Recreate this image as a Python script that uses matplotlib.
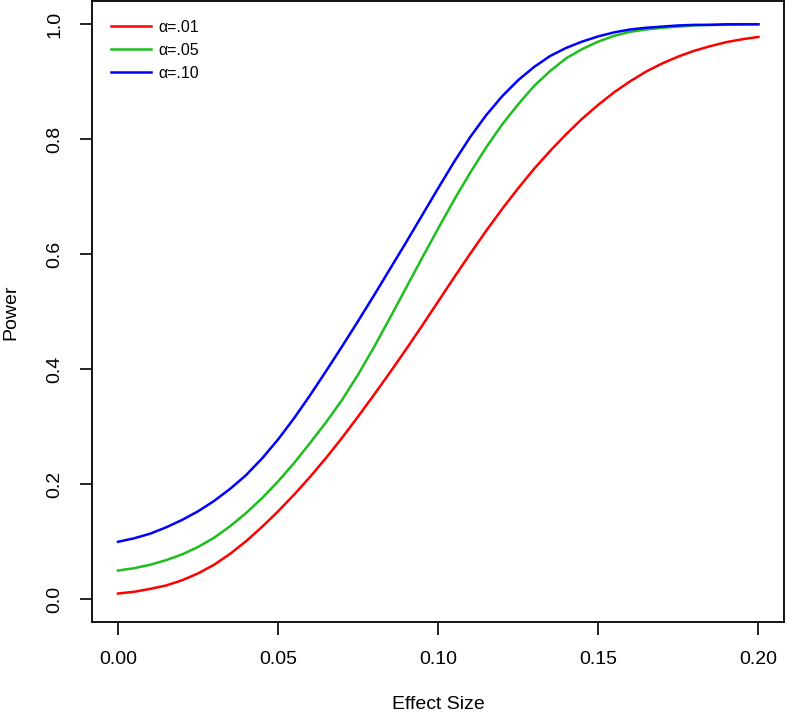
import matplotlib
matplotlib.use("Agg")
import matplotlib.pyplot as plt

plt.rcParams['font.family'] = ['Liberation Sans', 'DejaVu Sans']

# effect sizes, read at steps of 0.005
effect = [0.000, 0.005, 0.010, 0.015, 0.020, 0.025, 0.030, 0.035, 0.040, 0.045,
          0.050, 0.055, 0.060, 0.065, 0.070, 0.075, 0.080, 0.085, 0.090, 0.095,
          0.100, 0.105, 0.110, 0.115, 0.120, 0.125, 0.130, 0.135, 0.140, 0.145,
          0.150, 0.155, 0.160, 0.165, 0.170, 0.175, 0.180, 0.185, 0.190, 0.195,
          0.200]

# power
power_01 = [0.010, 0.013, 0.018, 0.024, 0.033, 0.045, 0.060, 0.079, 0.101, 0.126,
            0.153, 0.182, 0.213, 0.246, 0.281, 0.318, 0.356, 0.395, 0.435, 0.476,
            0.518, 0.560, 0.601, 0.641, 0.679, 0.715, 0.749, 0.780, 0.809, 0.836,
            0.860, 0.882, 0.901, 0.918, 0.932, 0.944, 0.954, 0.962, 0.969, 0.974,
            0.978]
power_05 = [0.050, 0.054, 0.060, 0.068, 0.078, 0.091, 0.107, 0.127, 0.150, 0.176,
            0.205, 0.237, 0.272, 0.308, 0.347, 0.391, 0.439, 0.490, 0.542, 0.594,
            0.645, 0.695, 0.742, 0.786, 0.826, 0.861, 0.893, 0.919, 0.941, 0.957,
            0.970, 0.980, 0.987, 0.991, 0.994, 0.996, 0.998, 0.999, 0.999, 1.000,
            1.000]
power_10 = [0.100, 0.106, 0.114, 0.125, 0.138, 0.153, 0.171, 0.192, 0.216, 0.245,
            0.278, 0.315, 0.355, 0.397, 0.440, 0.484, 0.529, 0.575, 0.621, 0.668,
            0.715, 0.761, 0.804, 0.842, 0.875, 0.903, 0.926, 0.945, 0.959, 0.970,
            0.979, 0.986, 0.991, 0.994, 0.996, 0.998, 0.999, 0.999, 1.000, 1.000,
            1.000]

labels = ['α=.01', 'α=.05', 'α=.10']
colors = ['#FF0000', '#1DBE1D', '#0000FF']

fig = plt.figure(figsize=(7.87, 7.16), dpi=100)
ax = fig.add_axes([0.1174, 0.1309, 0.8788, 0.8673])

for p, lab, c in zip([power_01, power_05, power_10], labels, colors):
    ax.plot(effect, p, color=c, lw=1.8, label=lab)

ax.set_xlim(-0.008, 0.208)
ax.set_ylim(-0.04, 1.04)
ax.set_xticks([0.00, 0.05, 0.10, 0.15, 0.20])
ax.set_xticklabels(['0.00', '0.05', '0.10', '0.15', '0.20'])
ax.set_yticks([0.0, 0.2, 0.4, 0.6, 0.8, 1.0])
ax.set_yticklabels(['0.0', '0.2', '0.4', '0.6', '0.8', '1.0'], rotation=90, va='center')
ax.tick_params(direction='out', length=9, width=1.2, labelsize=14, pad=12)
for s in ax.spines.values():
    s.set_linewidth(1.3)

ax.set_xlabel('Effect Size', fontsize=14, labelpad=20)
ax.set_ylabel('Power', fontsize=14, labelpad=19)

ax.legend(loc='upper left', bbox_to_anchor=(0.0, 1.0), frameon=False,
          fontsize=11.5, handlelength=2.5, handletextpad=0.45,
          labelspacing=0.5, borderaxespad=0.75)

fig.savefig('out.png', dpi=100)
